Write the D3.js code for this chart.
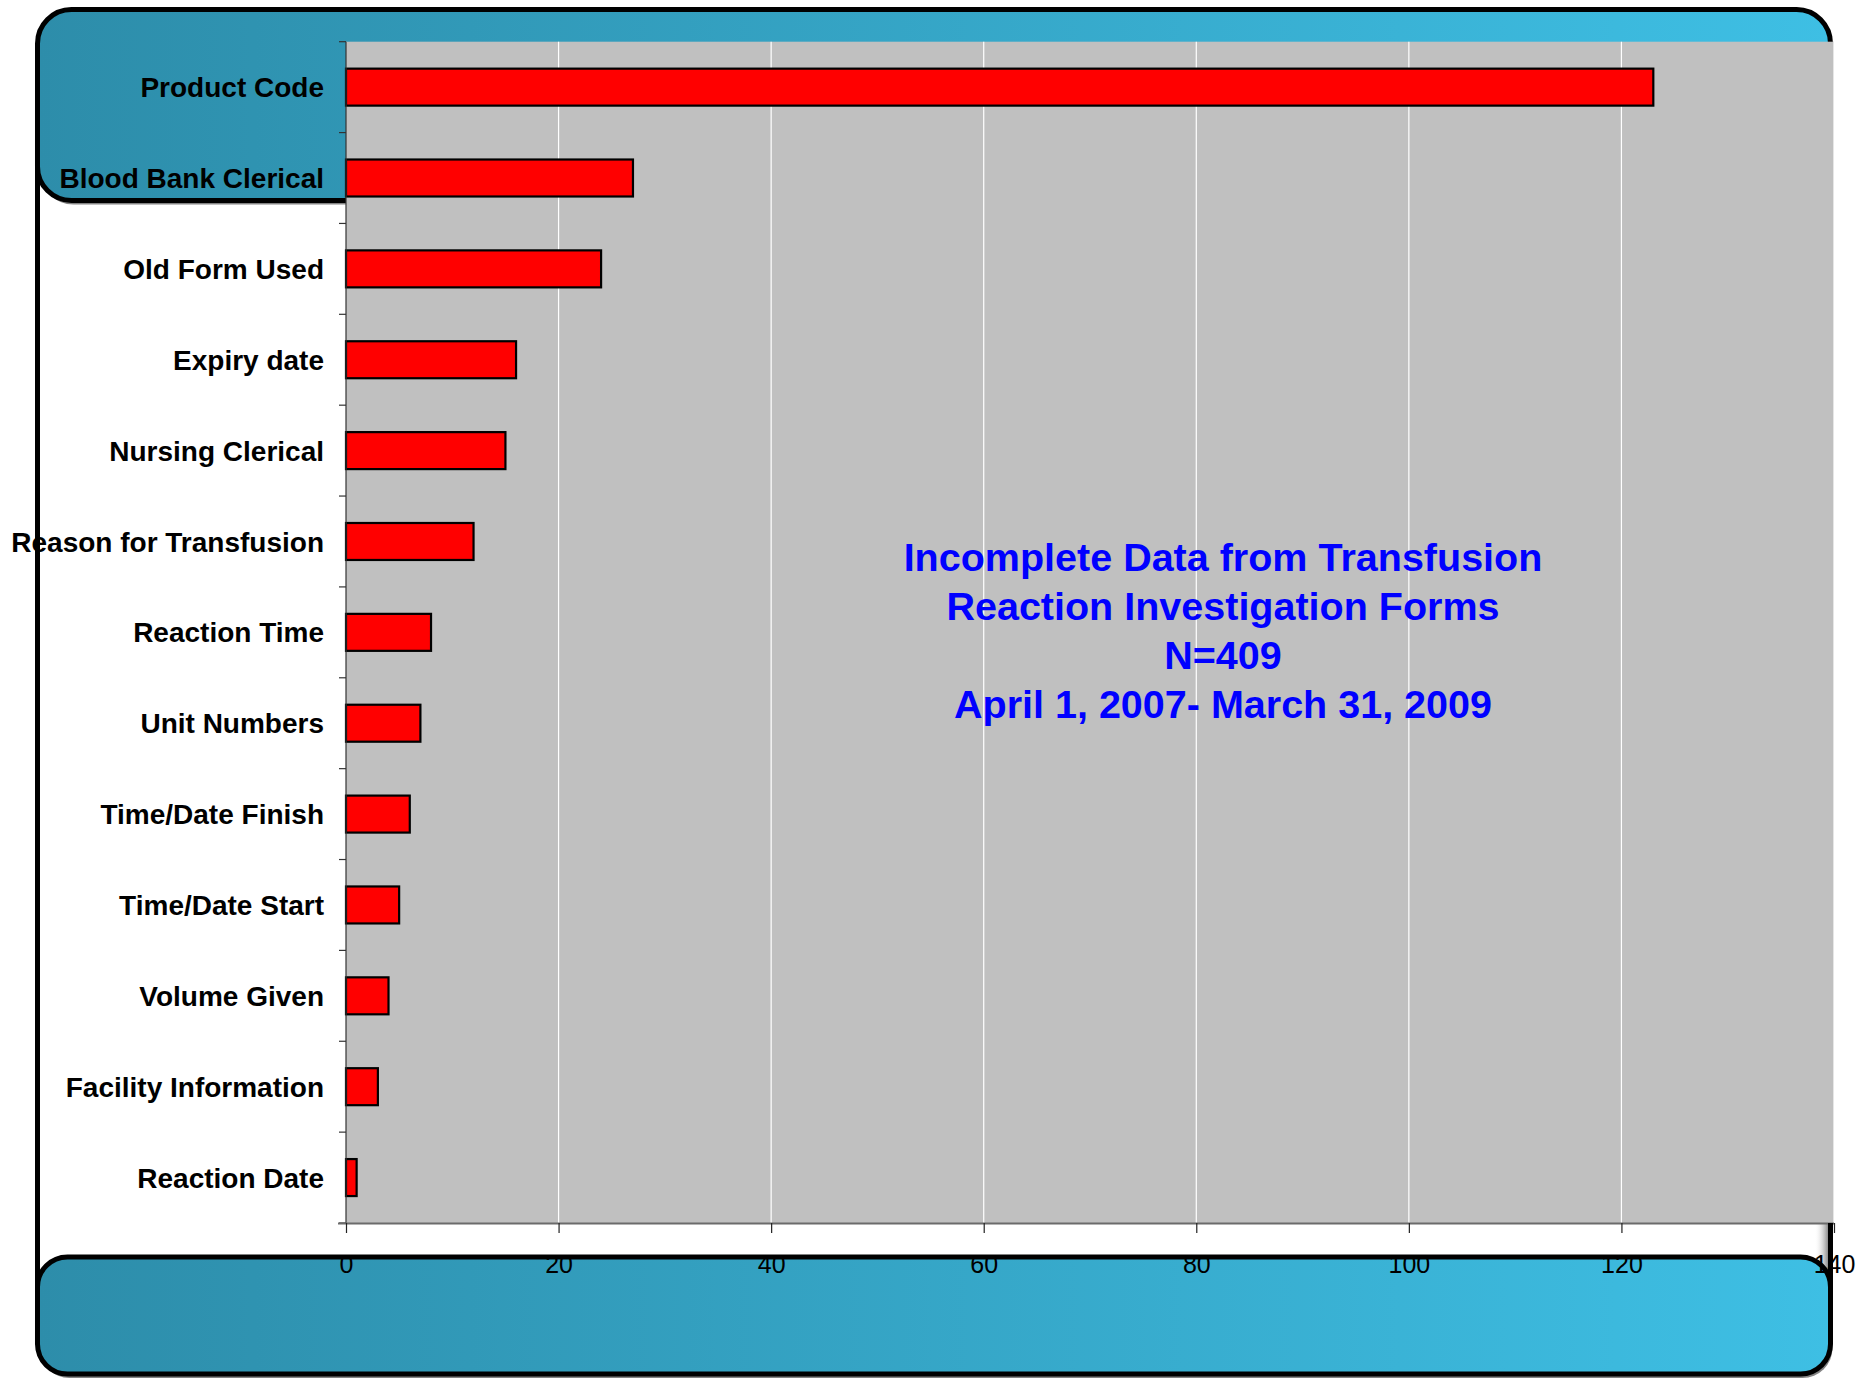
<!DOCTYPE html>
<html>
<head>
<meta charset="utf-8">
<script src="https://cdn.jsdelivr.net/npm/d3@7"></script>
<style>
  html, body { margin: 0; padding: 0; background: #ffffff; }
  svg { display: block; }
</style>
</head>
<body>
<svg id="chart" width="1865" height="1397"></svg>
<script>
// ---- data ----
const categories = [
  "Product Code", "Blood Bank Clerical", "Old Form Used", "Expiry date",
  "Nursing Clerical", "Reason for Transfusion", "Reaction Time", "Unit Numbers",
  "Time/Date Finish", "Time/Date Start", "Volume Given", "Facility Information",
  "Reaction Date"
];
const counts = [123, 27, 24, 16, 15, 12, 8, 7, 6, 5, 4, 3, 1];
const xTicks = [0, 20, 40, 60, 80, 100, 120, 140];
const titleLines = [
  "Incomplete Data from Transfusion",
  "Reaction Investigation Forms",
  "N=409",
  "April 1, 2007- March 31, 2009"
];

// ---- layout ----
const W = 1865, H = 1397;
const plot = { left: 346, right: 1834, top: 41.7, bottom: 1223 };
const svg = d3.select("#chart");
const defs = svg.append("defs");

const grad = defs.append("linearGradient").attr("id", "teal").attr("x1", "0%").attr("x2", "100%").attr("y1", "0%").attr("y2", "0%");
grad.append("stop").attr("offset", "0%").attr("stop-color", "#2D8DAA");
grad.append("stop").attr("offset", "100%").attr("stop-color", "#3EBFE4");

const shade = defs.append("linearGradient").attr("id", "shade").attr("x1", "0%").attr("x2", "100%");
shade.append("stop").attr("offset", "0%").attr("stop-color", "#ffffff").attr("stop-opacity", 0);
shade.append("stop").attr("offset", "100%").attr("stop-color", "#666666").attr("stop-opacity", 0.8);

// ---- slide frame ----
const frame = svg.append("g");
const frameL = 37.5, frameR = 1830.5;
frame.append("line").attr("x1", frameL).attr("x2", frameL).attr("y1", 100).attr("y2", 1300)
  .attr("stroke", "#000").attr("stroke-width", 5);
frame.append("rect").attr("x", frameR - 16).attr("y", 100).attr("width", 14).attr("height", 1200)
  .attr("fill", "url(#shade)");
frame.append("line").attr("x1", frameR).attr("x2", frameR).attr("y1", 100).attr("y2", 1300)
  .attr("stroke", "#000").attr("stroke-width", 5);

function bar(y, h, r) {
  frame.append("rect").attr("x", frameL + 2).attr("y", y + 4).attr("width", frameR - frameL).attr("height", h)
    .attr("rx", r).attr("fill", "#5a5a5a").attr("opacity", 0.75);
  frame.append("rect").attr("x", frameL).attr("y", y - 2).attr("width", frameR - frameL).attr("height", h)
    .attr("rx", r).attr("fill", "#555").attr("opacity", 0.6);
  frame.append("rect").attr("x", frameL).attr("y", y).attr("width", frameR - frameL).attr("height", h)
    .attr("rx", r).attr("fill", "url(#teal)").attr("stroke", "#000").attr("stroke-width", 5);
}
bar(9.5, 191, 34);
bar(1257, 117, 30);

// ---- chart ----
const x = d3.scaleLinear().domain([0, 140]).range([plot.left, plot.right]);
const y = d3.scaleBand().domain(categories).range([plot.top, plot.bottom])
  .paddingInner(0.593).paddingOuter(0.2965);

const g = svg.append("g");
g.append("rect").attr("x", plot.left).attr("y", plot.top)
  .attr("width", plot.right - plot.left).attr("height", plot.bottom - plot.top)
  .attr("fill", "#C0C0C0");

g.selectAll(".grid").data(xTicks.filter(d => d > 0)).enter().append("line")
  .attr("x1", d => x(d)).attr("x2", d => x(d))
  .attr("y1", plot.top).attr("y2", plot.bottom)
  .attr("stroke", "#ffffff").attr("stroke-width", 1.2);

g.selectAll(".bar").data(categories).enter().append("rect")
  .attr("x", x(0))
  .attr("y", d => y(d))
  .attr("width", (d, i) => x(counts[i]) - x(0))
  .attr("height", y.bandwidth())
  .attr("fill", "#FF0000")
  .attr("stroke", "#000").attr("stroke-width", 2.2);

g.append("line").attr("x1", plot.left).attr("x2", plot.left).attr("y1", plot.top).attr("y2", plot.bottom)
  .attr("stroke", "#333").attr("stroke-width", 1.2);
const step = y.step();
g.selectAll(".ytick").data(d3.range(categories.length + 1)).enter().append("line")
  .attr("x1", plot.left - 7).attr("x2", plot.left)
  .attr("y1", i => plot.top + i * step).attr("y2", i => plot.top + i * step)
  .attr("stroke", "#333").attr("stroke-width", 1.2);

g.selectAll(".ylab").data(categories).enter().append("text")
  .attr("x", 324)
  .attr("y", d => y(d) + y.bandwidth() / 2)
  .attr("dy", "0.36em")
  .attr("text-anchor", "end")
  .attr("font-family", "'Liberation Sans', Arial, sans-serif")
  .attr("font-weight", "bold")
  .attr("font-size", 28)
  .attr("fill", "#000")
  .text(d => d);

const xAxis = d3.axisBottom(x).tickValues(xTicks).tickSize(10).tickPadding(22).tickFormat(d3.format("d"));
const xg = g.append("g").attr("transform", `translate(0,${plot.bottom})`).call(xAxis);
xg.select(".domain").attr("stroke", "#6b6b6b").attr("stroke-width", 2.2)
  .attr("d", `M${plot.left - 8},0.5H${plot.right}`);
xg.selectAll(".tick line").attr("stroke", "#222").attr("stroke-width", 1.2);
xg.selectAll(".tick text")
  .attr("font-family", "'Liberation Sans', Arial, sans-serif")
  .attr("font-size", 25)
  .attr("fill", "#000");

const tg = svg.append("g");
tg.selectAll("text").data(titleLines).enter().append("text")
  .attr("x", 1223)
  .attr("y", (d, i) => 571 + i * 49)
  .attr("text-anchor", "middle")
  .attr("font-family", "'Liberation Sans', Arial, sans-serif")
  .attr("font-weight", "bold")
  .attr("font-size", 39.5)
  .attr("fill", "#0000FF")
  .text(d => d);

svg.append("line").attr("x1", frameR).attr("x2", frameR).attr("y1", plot.bottom).attr("y2", 1257)
  .attr("stroke", "#000").attr("stroke-width", 5);
</script>
</body>
</html>
